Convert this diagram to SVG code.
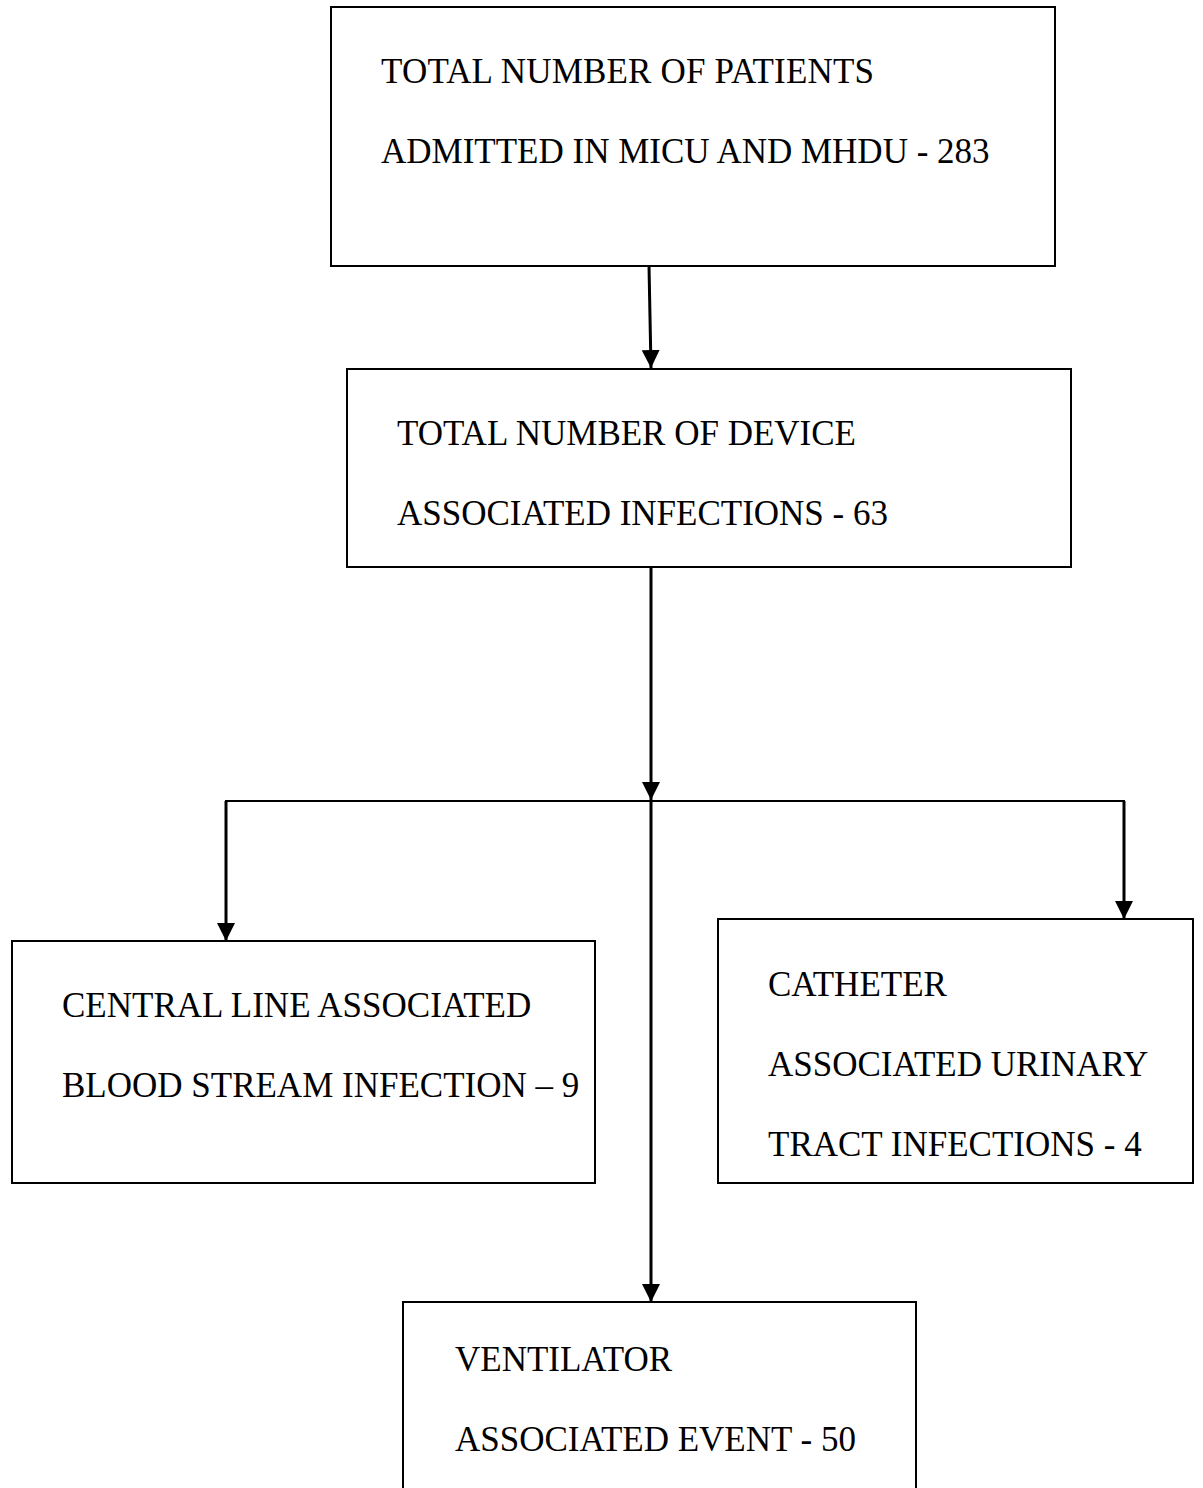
<svg xmlns="http://www.w3.org/2000/svg" width="1203" height="1488" viewBox="0 0 1203 1488">
  <style>
    .box { fill: #fff; stroke: #000; stroke-width: 2; }
    .lbl { font-family: "Liberation Serif", "Times New Roman", serif; font-size: 35px; fill: #000; }
    .wire { fill: none; stroke: #000; stroke-width: 3; }
  </style>
  <defs>
    <marker id="arrow" viewBox="0 0 18 18" refX="18" refY="9" markerWidth="18" markerHeight="18" markerUnits="userSpaceOnUse" orient="auto">
      <path d="M0,0 L18,9 L0,18 Z" fill="#000"/>
    </marker>
  </defs>
  <rect width="1203" height="1488" fill="#fff"/>

  <g id="connectors">
    <line class="wire" x1="649" y1="266" x2="651" y2="368" marker-end="url(#arrow)"/>
    <line class="wire" x1="651" y1="567" x2="651" y2="800" marker-end="url(#arrow)"/>
    <line x1="225" y1="801" x2="1125" y2="801" stroke="#000" stroke-width="2"/>
    <line class="wire" x1="651" y1="801" x2="651" y2="1302" marker-end="url(#arrow)"/>
    <polyline class="wire" points="226,801 226,941" marker-end="url(#arrow)"/>
    <polyline class="wire" points="1124,801 1124,919" marker-end="url(#arrow)"/>
  </g>

  <g id="patients">
    <rect class="box" x="331" y="7" width="724" height="259"/>
    <text class="lbl" x="381" y="83" textLength="493" lengthAdjust="spacing">TOTAL NUMBER OF PATIENTS</text>
    <text class="lbl" x="381" y="163">ADMITTED IN MICU AND MHDU - 283</text>
  </g>

  <g id="device-infections">
    <rect class="box" x="347" y="369" width="724" height="198"/>
    <text class="lbl" x="397" y="445">TOTAL NUMBER OF DEVICE</text>
    <text class="lbl" x="397" y="525">ASSOCIATED INFECTIONS - 63</text>
  </g>

  <g id="clabsi">
    <rect class="box" x="12" y="941" width="583" height="242"/>
    <text class="lbl" x="62" y="1017">CENTRAL LINE ASSOCIATED</text>
    <text class="lbl" x="62" y="1097">BLOOD STREAM INFECTION – 9</text>
  </g>

  <g id="cauti">
    <rect class="box" x="718" y="919" width="475" height="264"/>
    <text class="lbl" x="768" y="996">CATHETER</text>
    <text class="lbl" x="768" y="1076">ASSOCIATED URINARY</text>
    <text class="lbl" x="768" y="1156">TRACT INFECTIONS - 4</text>
  </g>

  <g id="vae">
    <rect class="box" x="403" y="1302" width="513" height="200"/>
    <text class="lbl" x="455" y="1371">VENTILATOR</text>
    <text class="lbl" x="455" y="1451">ASSOCIATED EVENT - 50</text>
  </g>
</svg>
